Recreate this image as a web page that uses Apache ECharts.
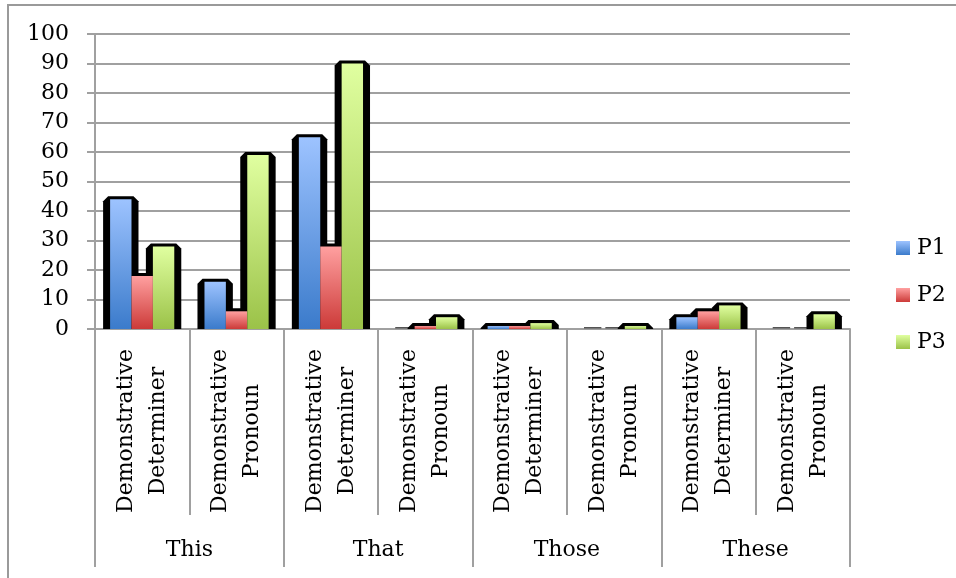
<!DOCTYPE html>
<html>
<head>
<meta charset="utf-8">
<script src="https://cdn.jsdelivr.net/npm/echarts@6/dist/echarts.min.js"></script>
<style>
  html, body { margin: 0; padding: 0; background: #fff; }
  #wrap { position: relative; width: 956px; height: 578px; }
  #chart { position: absolute; left: 0; top: 0; width: 956px; height: 578px; }
  #frame { position: absolute; left: 7px; top: 4px; width: 949px; height: 574px;
           border-top: 2px solid #9a9a9a; border-left: 2px solid #9a9a9a; box-sizing: border-box; pointer-events: none; }
</style>
</head>
<body>
<div id="wrap"><div id="chart"></div><div id="frame"></div></div>
<script>
// ---- data ----
const groups = ['This', 'That', 'Those', 'These'];
const subCategories = [
  'Demonstrative\nDeterminer', 'Demonstrative\nPronoun',
  'Demonstrative\nDeterminer', 'Demonstrative\nPronoun',
  'Demonstrative\nDeterminer', 'Demonstrative\nPronoun',
  'Demonstrative\nDeterminer', 'Demonstrative\nPronoun'
];
const seriesNames = ['P1', 'P2', 'P3'];
const p1 = [44, 16, 65, 0, 1, 0, 4, 0];
const p2 = [18, 6, 28, 1, 1, 0, 6, 0];
const p3 = [28, 59, 90, 4, 2, 1, 8, 5];
const yTicks = { min: 0, max: 100, interval: 10 };

// ---- styling ----
const FONT = 'DejaVu Serif';
const FS = 22;
const GRAY = '#a0a0a0';
const CAT_GAP = 0.32;
function grad(top, bottom) {
  return new echarts.graphic.LinearGradient(0, 0, 0, 1, [
    { offset: 0, color: top }, { offset: 1, color: bottom }
  ]);
}
const colors = [
  grad('#9dc3ff', '#3b7bcb'),
  grad('#ffa0a0', '#cc3a38'),
  grad('#e0ffa0', '#9bc248')
];
const allValues = [p1, p2, p3];

const shadowData = subCategories.map((c, i) => [i, p1[i], p2[i], p3[i]]);

const chart = echarts.init(document.getElementById('chart'));
const option = {
  animation: false,
  backgroundColor: 'transparent',
  textStyle: { fontFamily: FONT },
  grid: { left: 95, right: 106, top: 34, bottom: 249, containLabel: false },
  legend: {
    data: seriesNames,
    orient: 'vertical',
    left: 891,
    top: 232,
    itemWidth: 14,
    itemHeight: 14,
    itemGap: 25,
    icon: 'rect',
    textStyle: { fontFamily: FONT, fontSize: FS, color: '#000', padding: [0, 0, 0, 2] }
  },
  xAxis: [
    {
      type: 'category',
      data: subCategories,
      position: 'bottom',
      axisLine: { show: true, lineStyle: { color: GRAY, width: 2 } },
      axisTick: { show: true, alignWithLabel: false, length: 186, lineStyle: { color: GRAY, width: 2 } },
      axisLabel: {
        interval: 0, rotate: 90, align: 'center', verticalAlign: 'middle',
        margin: 102, fontFamily: FONT, fontSize: FS, lineHeight: 32, color: '#000'
      },
      splitLine: { show: false }
    },
    {
      type: 'category',
      data: groups,
      position: 'bottom',
      axisLine: { show: false },
      axisTick: { show: true, alignWithLabel: false, length: 238, lineStyle: { color: GRAY, width: 2 } },
      axisLabel: {
        interval: 0, verticalAlign: 'middle', margin: 221,
        fontFamily: FONT, fontSize: FS, color: '#000'
      },
      splitLine: { show: false }
    }
  ],
  yAxis: {
    type: 'value',
    min: yTicks.min, max: yTicks.max, interval: yTicks.interval,
    axisLine: { show: true, lineStyle: { color: GRAY, width: 2 } },
    axisTick: { show: true, length: 8, lineStyle: { color: GRAY, width: 2 } },
    axisLabel: { margin: 26, fontFamily: FONT, fontSize: FS, color: '#000' },
    splitLine: { show: true, lineStyle: { color: GRAY, width: 2 } }
  },
  series: [
    {
      type: 'custom',
      name: 'shadow',
      xAxisIndex: 0, yAxisIndex: 0,
      z: 1,
      silent: true,
      encode: { x: 0, y: [1, 2, 3] },
      data: shadowData,
      renderItem: function (params, api) {
        const idx = api.value(0);
        const base = api.coord([idx, 0]);
        const bandW = api.size([1, 0])[0];
        const barW = bandW * (1 - CAT_GAP) / 3;
        const children = [];
        for (let k = 0; k < 3; k++) {
          const v = api.value(k + 1);
          const x0 = base[0] - 1.5 * barW + k * barW;
          const x1 = x0 + barW;
          const y0 = base[1];
          if (v === 0) {
            children.push({
              type: 'rect',
              shape: { x: x0 + 2, y: y0 - 2, width: barW - 4, height: 1.5 },
              style: { fill: '#555' }
            });
            continue;
          }
          const top = api.coord([idx, v])[1];
          const t = top - 3;
          children.push({
            type: 'polygon',
            shape: { points: [
              [x0 - 7, y0], [x0 - 7, Math.min(y0, t + 5)], [x0 - 2, t], [x1 + 2, t],
              [x1 + 7, Math.min(y0, t + 5)], [x1 + 7, y0]
            ] },
            style: { fill: '#000' }
          });
        }
        return { type: 'group', children: children };
      }
    }
  ].concat(seriesNames.map((n, k) => ({
    type: 'bar',
    name: n,
    xAxisIndex: 0, yAxisIndex: 0,
    z: 3,
    data: allValues[k],
    barGap: '0%',
    barCategoryGap: (CAT_GAP * 100) + '%',
    itemStyle: { color: colors[k] }
  })))
};
chart.setOption(option);
</script>
</body>
</html>
